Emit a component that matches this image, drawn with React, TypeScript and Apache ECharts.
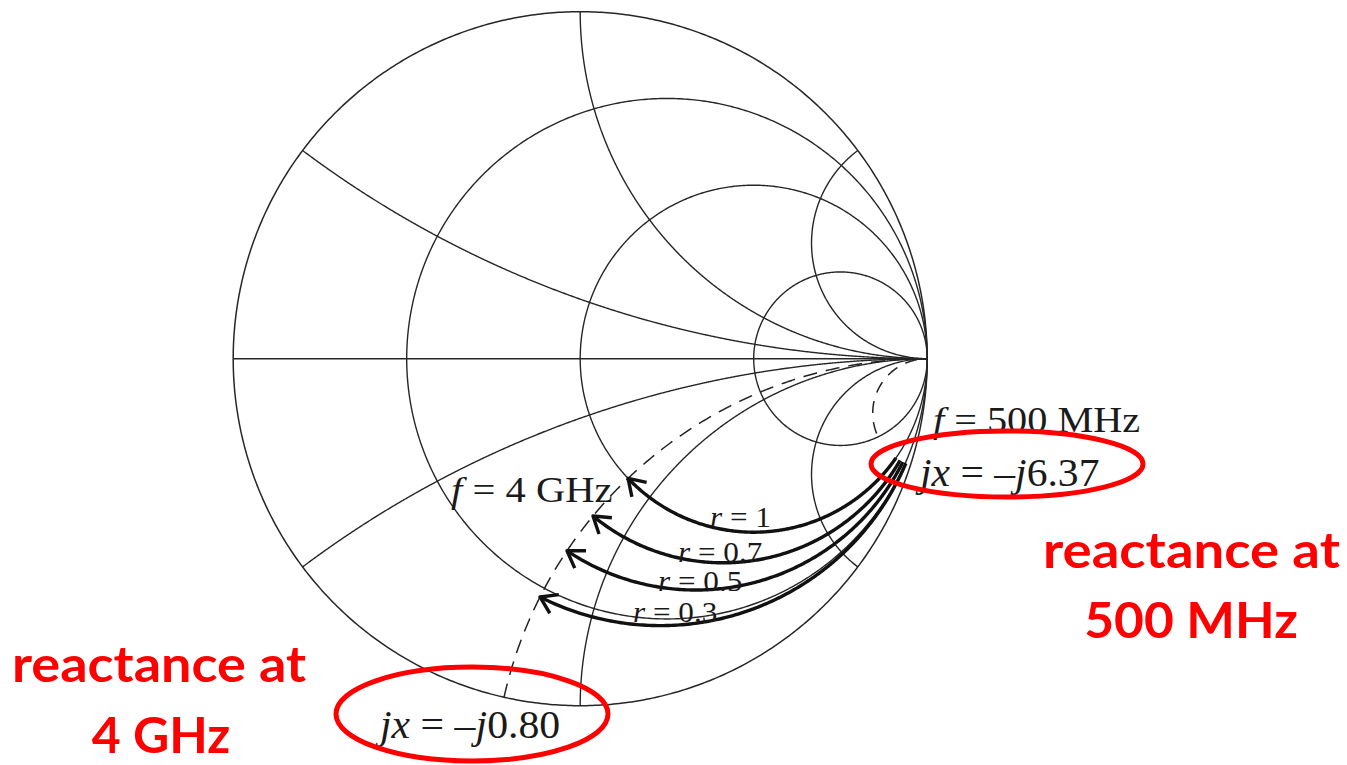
import React, { useEffect, useRef } from "react";
import * as echarts from "echarts";

// Smith chart grid: constant-resistance circles and constant-reactance arcs
const resistanceCircles = [1 / 3, 1, 3];
const reactanceArcs = [1 / 3, 1, 3, -1 / 3, -1, -3];

// Series RC load, normalized reactance at the two frequencies
const reactance500MHz = -6.37;
const reactance4GHz = -0.8;
const loadResistances = [1, 0.7, 0.5, 0.3];
const freqLow = "500 MHz";
const freqHigh = "4 GHz";

const SERIF = '"Liberation Serif", "Times New Roman", serif';
const SANS = 'Lato, "Open Sans", sans-serif';

// chart geometry (pixels)
const CX = 580.2;
const CY = 358.7;
const R = 347;

// reflection coefficient of a normalized impedance z = r + jx
function gamma(r: number, x: number): number[] {
  const d = (r + 1) * (r + 1) + x * x;
  return [(r * r - 1 + x * x) / d, (2 * x) / d];
}

function resistanceCircle(r: number): number[][] {
  const c = r / (1 + r);
  const rad = 1 / (1 + r);
  const pts: number[][] = [];
  for (let i = 0; i <= 720; i++) {
    const t = (i / 720) * Math.PI * 2;
    pts.push([c + rad * Math.cos(t), rad * Math.sin(t)]);
  }
  return pts;
}

function reactanceArc(x: number, rMin = 0, rMax = 1e6): number[][] {
  const a0 = Math.atan(rMin);
  const a1 = Math.min(Math.atan(rMax), Math.PI / 2 - 1e-5);
  const pts: number[][] = [];
  const n = 800;
  for (let i = 0; i <= n; i++) {
    const r = Math.tan(a0 + ((a1 - a0) * i) / n);
    pts.push(gamma(r, x));
  }
  return pts;
}

function resistanceArc(r: number, x0: number, x1: number): number[][] {
  const pts: number[][] = [];
  const n = 400;
  for (let i = 0; i <= n; i++) {
    pts.push(gamma(r, x0 + ((x1 - x0) * i) / n));
  }
  return pts;
}

function arrowHead(pts: number[][]): number[][] {
  const tip = pts[pts.length - 1];
  // walk back about 6 px along the curve to get the direction
  let k = pts.length - 2;
  while (k > 0 && Math.hypot(pts[k][0] - tip[0], pts[k][1] - tip[1]) * R < 6) k--;
  const dx = pts[k][0] - tip[0];
  const dy = pts[k][1] - tip[1];
  const len = Math.hypot(dx, dy);
  const ux = dx / len;
  const uy = dy / len;
  const L = 19 / R;
  const a = (33 * Math.PI) / 180;
  const rot = (s: number) => [
    tip[0] + L * (ux * Math.cos(s * a) - uy * Math.sin(s * a)),
    tip[1] + L * (ux * Math.sin(s * a) + uy * Math.cos(s * a)),
  ];
  return [rot(1), tip, rot(-1)];
}

function lineSeries(data: number[][], width: number, color: string, type: any = "solid", z = 2) {
  return {
    type: "line",
    data,
    showSymbol: false,
    symbol: "none",
    silent: true,
    clip: false,
    z,
    lineStyle: { width, color, type, cap: "butt", join: "round" },
  };
}

const fmtX = (x: number) => `${x < 0 ? "–" : ""}{i|j}${Math.abs(x).toFixed(2)}`;
const fmtR = (r: number) => `{i|r} = ${r}`;

function serifText(
  text: string,
  left: number,
  baseline: number,
  size: number,
  scaleX = 1,
  lineHeight?: number
) {
  const lh = lineHeight ?? size;
  return {
    type: "text",
    z: 50,
    x: left,
    y: baseline - 0.34 * size,
    scaleX,
    style: {
      text,
      x: 0,
      y: 0,
      fill: "#1a1a1a",
      fontSize: size,
      fontFamily: SERIF,
      lineHeight: lh,
      align: "left",
      verticalAlign: "middle",
      rich: {
        i: { fontStyle: "italic", fontSize: size, fontFamily: SERIF, fill: "#1a1a1a", lineHeight: lh },
      },
    },
  };
}

function redText(text: string, center: number, baseline: number, size: number, scaleX = 1) {
  return {
    type: "text",
    z: 60,
    x: center,
    y: baseline - 0.387 * size,
    scaleX,
    style: {
      text,
      x: 0,
      y: 0,
      fill: "#ff0000",
      fontSize: size,
      fontWeight: "bold",
      fontFamily: SANS,
      align: "center",
      verticalAlign: "middle",
    },
  };
}

export default function App() {
  const ref = useRef<HTMLDivElement>(null);

  useEffect(() => {
    if (!ref.current) return;
    const chart = echarts.init(ref.current, undefined, { renderer: "svg" });

    const series: any[] = [];
    const gridColor = "#262626";
    // outer circle and horizontal axis
    series.push(lineSeries(resistanceCircle(0), 1.5, gridColor));
    series.push(lineSeries([[-1, 0], [1, 0]], 1.5, gridColor));
    resistanceCircles.forEach((r) => series.push(lineSeries(resistanceCircle(r), 1.4, gridColor)));
    reactanceArcs.forEach((x) => series.push(lineSeries(reactanceArc(x), 1.4, gridColor)));

    // constant-reactance loci of the two frequencies
    series.push(lineSeries(reactanceArc(reactance4GHz), 1.5, "#222", [14, 9]));
    series.push(lineSeries(reactanceArc(reactance500MHz, 3.3), 1.5, "#222", [12, 9]));

    // load trajectories from 500 MHz to 4 GHz
    loadResistances.forEach((r) => {
      const arc = resistanceArc(r, reactance500MHz, reactance4GHz);
      series.push(lineSeries(arc, 3.4, "#111", "solid", 5));
      series.push(lineSeries(arrowHead(arc), 3.4, "#111", "solid", 5));
    });

    const rLabelPos = [
      [710, 527],
      [678, 562],
      [658, 591],
      [633, 622],
    ];

    const graphic: any[] = [
      serifText(`{i|f} = ${freqLow}`, 933, 432, 35, 1.15),
      serifText(`{i|jx} = ${fmtX(reactance500MHz)}`, 920, 486, 40, 1.04),
      serifText(`{i|f} = ${freqHigh}`, 451, 502, 35, 1.16),
      serifText(`{i|jx} = ${fmtX(reactance4GHz)}`, 380, 738, 40, 1.045),
      ...loadResistances.map((r, i) =>
        serifText(fmtR(r), rLabelPos[i][0], rLabelPos[i][1], 30, 1.04, 22)
      ),
      {
        type: "ellipse",
        z: 70,
        shape: { cx: 1007, cy: 464, rx: 136, ry: 33 },
        style: { fill: "none", stroke: "#ff0000", lineWidth: 5 },
      },
      {
        type: "ellipse",
        z: 70,
        shape: { cx: 472, cy: 714, rx: 136, ry: 47 },
        style: { fill: "none", stroke: "#ff0000", lineWidth: 5 },
      },
      redText("reactance at", 1191.5, 568, 50, 1.09),
      redText(freqLow, 1191, 638, 50, 1.03),
      redText("reactance at", 159, 682, 50, 1.08),
      redText(freqHigh, 161, 753, 50),
    ];

    chart.setOption({
      animation: false,
      backgroundColor: "#ffffff",
      grid: { left: CX - R, top: CY - R, width: 2 * R, height: 2 * R },
      xAxis: { type: "value", min: -1, max: 1, show: false },
      yAxis: { type: "value", min: -1, max: 1, show: false },
      series,
      graphic,
    });

    return () => chart.dispose();
  }, []);

  return (
    <div
      ref={ref}
      style={{ position: "fixed", left: 0, top: 0, width: 1347, height: 765, background: "#fff" }}
    />
  );
}
